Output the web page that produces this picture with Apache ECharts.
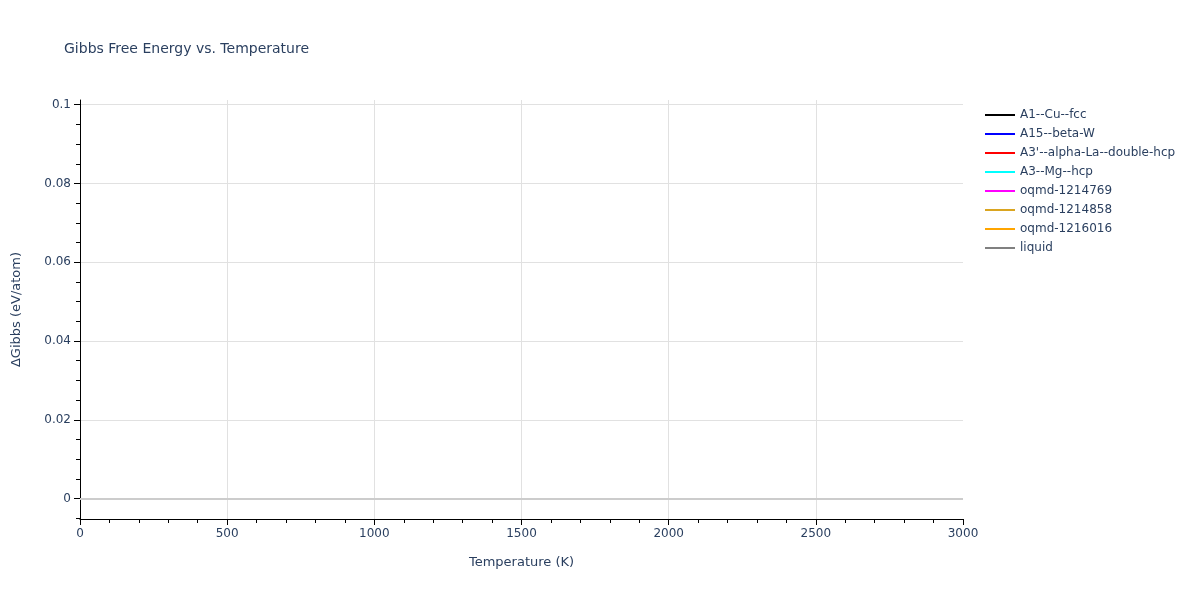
<!DOCTYPE html>
<html>
<head>
<meta charset="utf-8">
<script src="https://cdn.jsdelivr.net/npm/echarts@6/dist/echarts.min.js"></script>
<style>
html,body{margin:0;padding:0;background:#fff;}
#chart{width:1200px;height:600px;}
</style>
</head>
<body>
<div id="chart"></div>
<script>
// ---- data (no curves are visible in the reference: every phase is empty) ----
const phaseNames = ['A1--Cu--fcc','A15--beta-W',"A3'--alpha-La--double-hcp",'A3--Mg--hcp','oqmd-1214769','oqmd-1214858','oqmd-1216016','liquid'];
const temperatures = [];
const dG_A1 = [];
const dG_A15 = [];
const dG_A3p = [];
const dG_A3 = [];
const dG_oqmd1214769 = [];
const dG_oqmd1214858 = [];
const dG_oqmd1216016 = [];
const dG_liquid = [];
const phaseValues = [dG_A1, dG_A15, dG_A3p, dG_A3, dG_oqmd1214769, dG_oqmd1214858, dG_oqmd1216016, dG_liquid];
const yMajorTicks = [0, 0.02, 0.04, 0.06, 0.08, 0.1];
const yMinorTicks = [-0.005, 0.005, 0.01, 0.015, 0.025, 0.03, 0.035, 0.045, 0.05, 0.055, 0.065, 0.07, 0.075, 0.085, 0.09, 0.095];
const zeroLevel = 0;

// ---- styles ----
const colors = ['#000000','#0000ff','#ff0000','#00ffff','#ff00ff','#daa520','#ffa500','#808080'];
const textColor = '#2a3f5f';
const font = '"DejaVu Sans", Verdana, sans-serif';
const yMin = -0.0052, yMax = 0.1012;

const chart = echarts.init(document.getElementById('chart'));
const series = phaseNames.map((name, i) => ({
  name: name,
  type: 'line',
  showSymbol: false,
  symbol: 'none',
  color: colors[i],
  lineStyle: { width: 2, color: colors[i] },
  data: temperatures.map((t, j) => [t, phaseValues[i][j]])
}));
series[0].markLine = {
  silent: true,
  symbol: 'none',
  label: { show: false },
  lineStyle: { color: '#cccccc', width: 2, type: 'solid' },
  data: [{ yAxis: zeroLevel }],
  animation: false
};

chart.setOption({
  animation: false,
  backgroundColor: '#ffffff',
  title: {
    text: 'Gibbs Free Energy vs. Temperature',
    left: 59, top: 37,
    textStyle: { fontFamily: font, fontSize: 14, fontWeight: 'normal', color: textColor }
  },
  legend: {
    orient: 'vertical',
    left: 980, top: 103,
    icon: 'rect',
    itemWidth: 30, itemHeight: 2,
    itemGap: 5,
    textStyle: { fontFamily: font, fontSize: 12, color: textColor, lineHeight: 14 },
    data: phaseNames
  },
  grid: { left: 80, right: 237, top: 100, bottom: 81, containLabel: false },
  xAxis: {
    type: 'value',
    min: 0, max: 3000, interval: 500,
    name: 'Temperature (K)',
    nameLocation: 'middle',
    nameGap: 37,
    nameTextStyle: { fontFamily: font, fontSize: 13, color: textColor },
    axisLine: { show: true, onZero: false, lineStyle: { color: '#000', width: 1 } },
    axisTick: { show: true, length: 6, lineStyle: { color: '#000' } },
    minorTick: { show: true, splitNumber: 5, length: 4, lineStyle: { color: '#000' } },
    axisLabel: { fontFamily: font, fontSize: 12, color: textColor, margin: 9, formatter: v => String(v) },
    splitLine: { show: true, showMinLine: false, showMaxLine: false, lineStyle: { color: '#e1e1e1', width: 1 } }
  },
  yAxis: [
    {
      type: 'value',
      min: yMin, max: yMax,
      name: 'ΔGibbs (eV/atom)',
      nameLocation: 'middle',
      nameGap: 57,
      nameTextStyle: { fontFamily: font, fontSize: 13, color: textColor },
      axisLine: { show: true, onZero: false, lineStyle: { color: '#000', width: 1 } },
      axisTick: { show: true, length: 6, customValues: yMajorTicks, lineStyle: { color: '#000' } },
      axisLabel: {
        fontFamily: font, fontSize: 12, color: textColor, margin: 9,
        customValues: yMajorTicks,
        formatter: v => String(+v.toFixed(3))
      },
      splitLine: { show: true, lineStyle: { color: '#e1e1e1', width: 1 } }
    },
    {
      type: 'value',
      min: yMin, max: yMax,
      position: 'left',
      axisLine: { show: false },
      axisTick: { show: true, length: 4, customValues: yMinorTicks, lineStyle: { color: '#000' } },
      axisLabel: { show: false },
      splitLine: { show: false }
    }
  ],
  series: series
});
</script>
</body>
</html>
